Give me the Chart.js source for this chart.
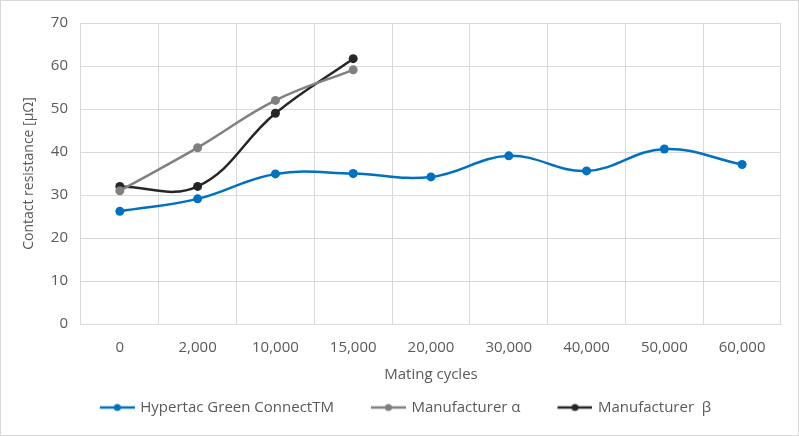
<!DOCTYPE html>
<html>
<head>
<meta charset="utf-8">
<script src="https://cdn.jsdelivr.net/npm/chart.js@4"></script>
<style>
  html, body { margin: 0; padding: 0; background: #fff; }
  #wrap { position: relative; width: 797px; height: 434px; border: 1px solid #d9d9d9; }
</style>
</head>
<body>
<div id="wrap"><canvas id="chart" width="797" height="434"></canvas></div>
<script>
// mating cycles (categories)
var cycles = ['0', '2,000', '10,000', '15,000', '20,000', '30,000', '40,000', '50,000', '60,000'];
// contact resistance in micro-ohm
var hypertac = [26.2, 29.1, 34.9, 35.0, 34.2, 39.1, 35.6, 40.7, 37.1];
var makerAlpha = [31, 41, 52, 59.1, null, null, null, null, null];
var makerBeta = [32, 32, 49, 61.7, null, null, null, null, null];
var yTicks = [0, 10, 20, 30, 40, 50, 60, 70];

var FONT = '"Open Sans", "Noto Sans", sans-serif';
var TEXT = '#595959';
var LEGEND_SHIFT = -6;

// line-with-dot picture for the legend, with empty room on the left as item gap
function legendMark(color) {
  var c = document.createElement('canvas');
  c.width = 66; c.height = 10;
  var g = c.getContext('2d');
  g.strokeStyle = color; g.lineWidth = 2.5;
  g.beginPath(); g.moveTo(31, 5); g.lineTo(66, 5); g.stroke();
  g.fillStyle = color;
  g.beginPath(); g.arc(48.5, 5, 3.5, 0, Math.PI * 2); g.fill();
  return c;
}

function series(label, data, color) {
  return {
    label: label,
    data: data,
    borderColor: color,
    backgroundColor: color,
    borderWidth: 2.5,
    pointRadius: 4.5,
    pointHoverRadius: 4.5,
    pointBorderWidth: 0,
    tension: 0.4,
    spanGaps: false,
    pointStyle: 'circle',
    legendMark: legendMark(color)
  };
}

// move the legend a little to the left, like the original
var legendNudge = {
  id: 'legendNudge',
  beforeUpdate: function(chart) {
    var lg = chart.legend;
    if (!lg || lg._nudged) return;
    var draw = lg.draw;
    lg.draw = function() {
      var c = this.ctx;
      c.save();
      c.translate(LEGEND_SHIFT, 0);
      draw.apply(this, arguments);
      c.restore();
    };
    lg._nudged = true;
  }
};

var ctx = document.getElementById('chart').getContext('2d');
new Chart(ctx, {
  type: 'line',
  data: {
    labels: cycles,
    datasets: [
      series('Hypertac Green ConnectTM', hypertac, '#0070c0'),
      series('Manufacturer \u03b1', makerAlpha, '#808080'),
      series('Manufacturer  \u03b2', makerBeta, '#262626')
    ]
  },
  plugins: [legendNudge],
  options: {
    responsive: false,
    animation: false,
    layout: { padding: { left: 12, right: 17, top: 10, bottom: 10 } },
    plugins: {
      tooltip: { enabled: false },
      legend: {
        position: 'bottom',
        labels: {
          color: TEXT,
          font: { family: FONT, size: 15 },
          usePointStyle: true,
          pointStyleWidth: 62,
          boxHeight: 10,
          padding: 8,
          generateLabels: function(chart) {
            return chart.data.datasets.map(function(ds, i) {
              return {
                text: ds.label,
                pointStyle: ds.legendMark,
                fillStyle: ds.borderColor,
                strokeStyle: ds.borderColor,
                lineWidth: 0,
                fontColor: TEXT,
                hidden: false,
                datasetIndex: i
              };
            });
          }
        }
      }
    },
    scales: {
      x: {
        offset: true,
        grid: { color: '#d9d9d9', offset: true, drawTicks: false },
        border: { color: '#d9d9d9' },
        ticks: { color: TEXT, font: { family: FONT, size: 15 }, padding: 15, maxRotation: 0, autoSkip: false },
        title: { display: true, text: 'Mating cycles', color: TEXT, font: { family: FONT, size: 15 }, padding: { top: -6, bottom: 8 } }
      },
      y: {
        min: yTicks[0],
        max: yTicks[yTicks.length - 1],
        grid: { color: '#d9d9d9', drawTicks: false },
        border: { color: '#d9d9d9' },
        afterBuildTicks: function(axis) {
          axis.ticks = yTicks.map(function(v) { return { value: v }; });
        },
        ticks: { color: TEXT, font: { family: FONT, size: 15 }, padding: 13 },
        title: { display: true, text: 'Contact resistance [\u03bc\u03a9]', color: TEXT, font: { family: FONT, size: 14 }, padding: { top: 8, bottom: 0 } }
      }
    }
  }
});
</script>
</body>
</html>
